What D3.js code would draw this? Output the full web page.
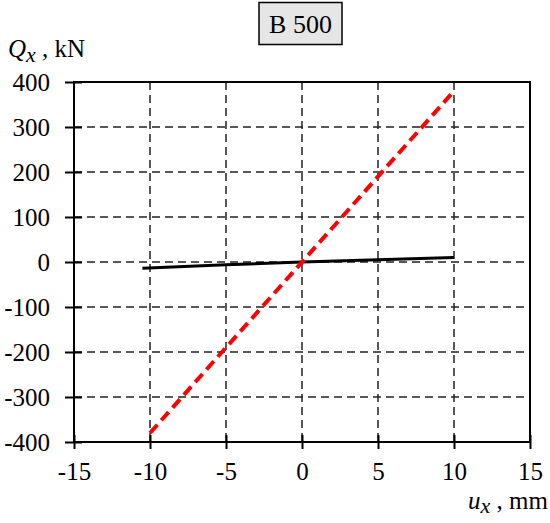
<!DOCTYPE html>
<html>
<head>
<meta charset="utf-8">
<script src="https://cdn.jsdelivr.net/npm/d3@7"></script>
<style>
  body { margin: 0; background: #fff; }
  svg text { font-family: "Liberation Serif", "Times New Roman", serif; fill: #000; }
</style>
</head>
<body>
<div id="chart"></div>
<script>
var title_text   = "B 500";
var x_ticks      = [-15, -10, -5, 0, 5, 10, 15];
var y_ticks      = [-400, -300, -200, -100, 0, 100, 200, 300, 400];
var red_u        = [-10, 10];
var red_q        = [-380, 380];
var black_u      = [-10.5, -5, 0, 5, 10];
var black_q      = [-14, -6, 0, 5, 10];

var width  = 550;
var height = 523;
var margin = {left: 74, right: 20, top: 82, bottom: 81};

var svg = d3.select("#chart").append("svg")
  .attr("width", width)
  .attr("height", height);

var x = d3.scaleLinear()
  .domain([-15, 15])
  .range([margin.left, width - margin.right]);
var y = d3.scaleLinear()
  .domain([-400, 400])
  .range([height - margin.bottom, margin.top]);

// grid
svg.append("g").selectAll("line")
  .data(x_ticks.slice(1, -1))
  .enter().append("line")
  .attr("x1", function (d) { return x(d); })
  .attr("x2", function (d) { return x(d); })
  .attr("y1", y(400))
  .attr("y2", y(-400))
  .attr("stroke", "#222")
  .attr("stroke-width", 1.5)
  .attr("stroke-dasharray", "8,5");
svg.append("g").selectAll("line")
  .data(y_ticks.slice(1, -1))
  .enter().append("line")
  .attr("x1", x(-15))
  .attr("x2", x(15))
  .attr("y1", function (d) { return y(d); })
  .attr("y2", function (d) { return y(d); })
  .attr("stroke", "#222")
  .attr("stroke-width", 1.5)
  .attr("stroke-dasharray", "8,5");

// frame
svg.append("rect")
  .attr("x", x(-15))
  .attr("y", y(400))
  .attr("width", x(15) - x(-15))
  .attr("height", y(-400) - y(400))
  .attr("fill", "none")
  .attr("stroke", "#000")
  .attr("stroke-width", 2);

// axes (hyphen minus like the original)
var fmt = function (d) { return String(d); };
var x_axis = svg.append("g")
  .attr("transform", "translate(0," + y(-400) + ")")
  .call(d3.axisBottom(x).tickValues(x_ticks).tickFormat(fmt).tickSize(7).tickSizeOuter(0).tickPadding(13));
var y_axis = svg.append("g")
  .attr("transform", "translate(" + x(-15) + ",0)")
  .call(d3.axisLeft(y).tickValues(y_ticks).tickFormat(fmt).tickSize(9).tickSizeOuter(0).tickPadding(15));

[x_axis, y_axis].forEach(function (a) {
  a.attr("font-family", "Liberation Serif, serif").attr("font-size", 25);
  a.select(".domain").remove();
  a.selectAll(".tick line").attr("stroke", "#000").attr("stroke-width", 2);
  a.selectAll(".tick text").attr("fill", "#000");
});
x_axis.selectAll(".tick line").attr("y1", -7);
y_axis.selectAll(".tick line").attr("x1", 8);

var line = d3.line()
  .x(function (d) { return x(d[0]); })
  .y(function (d) { return y(d[1]); });

svg.append("path")
  .datum(d3.zip(black_u, black_q))
  .attr("d", line)
  .attr("fill", "none")
  .attr("stroke", "#000")
  .attr("stroke-width", 3);

svg.append("path")
  .datum(d3.zip(red_u, red_q))
  .attr("d", line)
  .attr("fill", "none")
  .attr("stroke", "#ff0000")
  .attr("stroke-width", 4)
  .attr("stroke-dasharray", "11,6");

// title box
svg.append("rect")
  .attr("x", 259)
  .attr("y", 2.5)
  .attr("width", 83)
  .attr("height", 42)
  .attr("fill", "#e6e6e6")
  .attr("stroke", "#000")
  .attr("stroke-width", 1.5);
svg.append("text")
  .attr("x", 300.5)
  .attr("y", 33)
  .attr("text-anchor", "middle")
  .style("font-size", "26px")
  .text(title_text);

// axis titles
var y_title = svg.append("text")
  .attr("x", 8)
  .attr("y", 57)
  .style("font-size", "25px");
y_title.append("tspan").style("font-style", "italic").text("Q");
y_title.append("tspan").style("font-style", "italic").style("font-size", "22px").attr("dy", 5).text("x");
y_title.append("tspan").attr("dy", -5).text(" , kN");

var x_title = svg.append("text")
  .attr("x", 548)
  .attr("y", 509)
  .attr("text-anchor", "end")
  .style("font-size", "25px");
x_title.append("tspan").style("font-style", "italic").text("u");
x_title.append("tspan").style("font-style", "italic").style("font-size", "22px").attr("dy", 4).text("x");
x_title.append("tspan").attr("dy", -4).text(" , mm");
</script>
</body>
</html>
